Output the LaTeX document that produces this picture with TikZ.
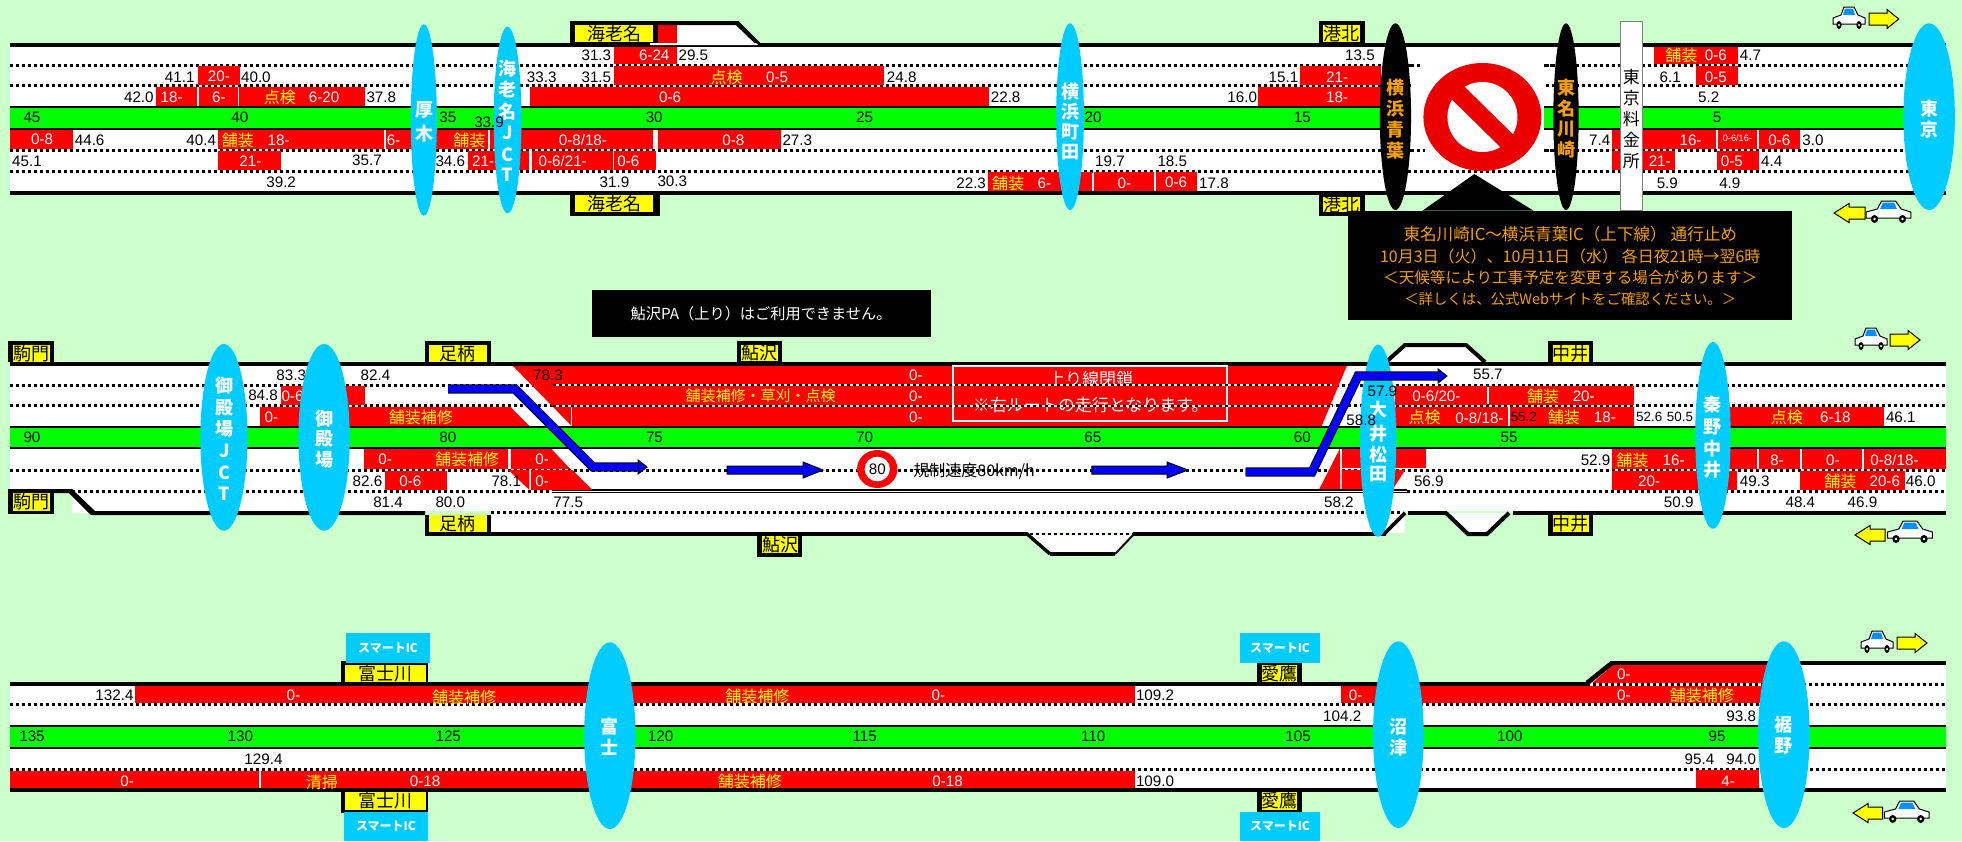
\documentclass[tikz,border=0pt]{standalone}
\usepackage{fontspec}
\setmainfont{Liberation Sans}
\newfontfamily\cjk{Noto Sans CJK JP}
\definecolor{bgc}{HTML}{CCFFCC}
\definecolor{grn}{HTML}{00FF00}
\definecolor{rd}{HTML}{FF0000}
\definecolor{yl}{HTML}{FFFF00}
\definecolor{cy}{HTML}{00CCFF}
\definecolor{org}{HTML}{F5A000}
\tikzset{
  txt/.style={inner sep=0pt,outer sep=0pt,anchor=center},
  cropA/.style 2 args={shift={(#1*0.5pt,-#2*0.5pt)},x=0.21044pt,y=-0.16667pt},
  cropB/.style 2 args={shift={(#1*0.5pt,-#2*0.5pt)},x=0.21110pt,y=-0.16667pt},
  dsh/.style={black,line width=1.5pt,dash pattern=on 1.7pt off 1.3pt},
}
\newcommand\rr[4]{\fill[rd] (#1,#2) rectangle (#3,#4);}
\newcommand\bk[4]{\fill[black] (#1,#2) rectangle (#3,#4);}
\newcommand\wh[4]{\fill[white] (#1,#2) rectangle (#3,#4);}
\newcommand\nb[3]{\node[txt,text=black] at (#1,#2) {\fontsize{7.6}{8}\selectfont #3};}
\newcommand\ns[3]{\node[txt,text=black] at (#1,#2) {\fontsize{6.7}{8}\selectfont #3};}
\newcommand\nw[3]{\node[txt,text=white] at (#1,#2) {\fontsize{7.6}{8}\selectfont #3};}
\newcommand\ky[3]{\node[txt,text=yl] at (#1,#2) {\cjk\fontsize{8}{9}\selectfont #3};}
\newcommand\kw[3]{\node[txt,text=white] at (#1,#2) {\cjk\bfseries\fontsize{9}{9}\selectfont #3};}
\newcommand\ko[3]{\node[txt,text=org] at (#1,#2) {\cjk\bfseries\fontsize{9}{9}\selectfont #3};}
\newcommand\kk[3]{\node[txt,text=black] at (#1,#2) {\cjk\fontsize{8.5}{9}\selectfont #3};}
\newcommand\hub[4]{\fill[cy] (#1,#2) ellipse [x radius=#3,y radius=#4];}
\newcommand\ybox[9]{\bk{#1}{#2}{#3}{#4}\fill[yl] (#5,#6) rectangle (#7,#8);
  \node[txt,text=black] at ({(#5+#7)/2},{(#6+#8)/2}) {\cjk\fontsize{9}{9}\selectfont #9};}
\newcommand\smic[5]{\fill[cy] (#1,#2) rectangle (#3,#4);
  \node[txt,text=white] at ({(#1+#3)/2},{(#2+#4)/2}) {\cjk\bfseries\fontsize{6}{7}\selectfont #5};}
% car: x, y, xscale
\newcommand\car[3]{\begin{scope}[shift={(#1,#2)},xscale=#3]
  \filldraw[fill=white,draw=black,line width=.5pt] (-16,6)--(-16,0)--(-8,-3)--(-5,-11)--(5,-11)--(9,-3)--(16,0)--(16,6)--cycle;
  \fill[cy!70!blue] (-4,-9.5)--(4,-9.5)--(6,-3)--(-6,-3)--cycle;
  \fill[black] (-10,7) ellipse [x radius=2.6,y radius=4];
  \fill[black] (10,7) ellipse [x radius=2.6,y radius=4];
  \fill[white] (-10,7) ellipse [x radius=1,y radius=1.4];
  \fill[white] (10,7) ellipse [x radius=1,y radius=1.4];
  \end{scope}}
% yellow arrow: tail, head base, tip, cy
\newcommand\yar[4]{\filldraw[fill=yl,draw=black,line width=.5pt,line join=miter]
  (#1,#4-6)--(#2,#4-6)--(#2,#4-9.5)--(#3,#4)--(#2,#4+9.5)--(#2,#4+6)--(#1,#4+6)--cycle;}
% blue arrow shaft + head
\newcommand\blu[5]{\filldraw[fill=blue,draw=black,line width=.5pt]
  (#1,#4-4)--(#2,#4-4)--(#2,#4-8)--(#3,#4)--(#2,#4+8)--(#2,#4+4)--(#1,#4+4)--cycle;}
\begin{document}
\begin{tikzpicture}[x=0.5pt,y=-0.5pt]
\useasboundingbox (0,0) rectangle (1962,841);
\fill[bgc] (0,0) rectangle (1962,841);

%% ================ ROW 1 ================
\wh{10}{45}{1946}{193}
\bk{10}{43}{1946}{47}
\bk{10}{191}{1946}{195}
\bk{10}{106}{1946}{129.7}
\fill[grn] (10,107.7) rectangle (1946,127.7);
\foreach \yy in {65,85.7,150,171.3} \draw[dsh] (10,\yy)--(1925,\yy);
% closure mask
\wh{1410.6}{47}{1544}{169.5}
\draw[dsh] (1410.6,65)--(1422,65);
\draw[dsh] (1410.6,150)--(1425,150);
\draw[dsh] (1544,65)--(1553,65);
\draw[dsh] (1544,150)--(1553,150);
% no-entry sign
\fill[rd!92!black] (1482.4,117) ellipse [x radius=59,y radius=54];
\fill[white] (1482.4,117) ellipse [x radius=35,y radius=35];
\draw[rd!92!black,line width=9pt] (1454,89)--(1511,145);
% branch over 海老名
\fill[white] (650,25)--(738,25)--(758,45)--(650,45)--cycle;
\begin{scope}[cropA={0}{0}]
 \rr{371}{261}{467}{318}\rr{472}{261}{566}{318}\rr{569}{261}{867}{318}
 \rr{470}{198}{570}{255}
 \rr{24}{389}{173}{447}\rr{518}{389}{912}{447}\rr{917}{389}{1160}{447}\rr{1164}{389}{1552}{447}
 \rr{518}{453}{667}{510}\rr{1112}{453}{1258}{510}\rr{1263}{453}{1456}{510}\rr{1460}{453}{1558}{510}
 \nb{1417}{167}{31.3}\nb{427}{231}{41.1}\nb{608}{231}{40.0}\nb{1287}{231}{33.3}\nb{1417}{231}{31.5}
 \nb{330}{293}{42.0}\nb{906}{293}{37.8}\nb{76}{352}{45}\nb{570}{352}{40}\nb{1064}{352}{35}
 \nb{213}{421}{44.6}\nb{478}{421}{40.4}\nb{64}{484}{45.1}\nb{872}{482}{35.7}\nb{1070}{484}{34.6}
 \nb{668}{547}{39.2}\nb{1460}{547}{31.9}
 \nw{520}{228}{20-}\nw{408}{293}{18-}\nw{520}{293}{6-}\ky{665}{293}{点検}\nw{770}{293}{6-20}
 \ky{1456}{293}{点検}
 \nw{100}{418}{0-8}\ky{565}{421}{舗装}\nw{662}{421}{18-}\nw{935}{422}{6-}\ky{1115}{421}{舗装}\nw{1385}{421}{0-8/18-}
 \nw{595}{484}{21-}\nw{1148}{484}{21-}\nw{1337}{484}{0-6/21-}\nw{1493}{484}{0-6}
 \hub{1007}{360}{31}{287}\kw{1008}{330}{厚}\kw{1008}{400}{木}
 \hub{1206}{360}{33}{280}\kw{1206}{205}{海}\kw{1206}{270}{老}\kw{1206}{335}{名}\kw{1206}{400}{J}\kw{1206}{463}{C}\kw{1206}{523}{T}
 \nb{1162}{368}{33.9}
 \ybox{1354}{63}{1568}{129}{1366}{75}{1552}{127}{海老名}
 \ybox{1354}{585}{1568}{647}{1366}{585}{1552}{635}{海老名}
\end{scope}
\begin{scope}[cropA={650}{0}]
 \bk{6}{63}{18}{129}\bk{6}{585}{18}{647}
 \fill[yl] (0,75) rectangle (6,127);
 \fill[yl] (0,585) rectangle (6,635);
 \rr{18}{75}{64}{129}
 \fill[black] (18,63)--(210,63)--(262,129)--(248,129)--(204,75)--(18,75)--cycle;
 \rr{-86}{141}{64}{192}\rr{-86}{198}{557}{255}\rr{-286}{261}{805}{318}
 \rr{18}{389}{311}{447}
 \rr{803}{517}{1050}{573}\rr{1055}{517}{1197}{573}\rr{1202}{517}{1300}{573}
 \nw{10}{167}{6-24}\nb{103}{167}{29.5}\ky{182}{231}{点検}\nw{302}{231}{0-5}\nb{598}{231}{24.8}\nb{1505}{231}{15.1}
 \nw{48}{293}{0-6}\nb{845}{293}{22.8}\nb{1407}{293}{16.0}
 \nb{10}{352}{30}\nb{510}{352}{25}\nb{1053}{352}{20}\nb{1550}{352}{15}
 \nw{198}{421}{0-8}\nb{350}{421}{27.3}\nb{1093}{484}{19.7}\nb{1241}{484}{18.5}
 \nb{53}{545}{30.3}\nb{763}{550}{22.3}\ky{851}{550}{舗装}\nw{937}{550}{6-}\nw{1127}{550}{0-}\nw{1250}{548}{0-6}\nb{1340}{550}{17.8}
 \hub{998}{350}{33}{280}\kw{998}{275}{横}\kw{998}{335}{浜}\kw{998}{395}{町}\kw{998}{455}{田}
\end{scope}
\begin{scope}[cropB={1300}{0}]
 \rr{0}{198}{192}{255}\rr{-99}{261}{192}{318}
 \rr{838}{141}{1037}{192}\rr{938}{198}{1037}{255}
 \rr{740}{389}{985}{447}\rr{990}{389}{1082}{447}\rr{1087}{389}{1183}{447}
 \rr{740}{453}{888}{510}\rr{988}{453}{1087}{510}
 \nb{142}{167}{13.5}\nw{88}{231}{21-}\nw{88}{293}{18-}
 \ky{903}{167}{舗装}\nw{985}{167}{0-6}\nb{1067}{167}{4.7}\nb{877}{231}{6.1}\nw{985}{231}{0-5}\nb{968}{293}{5.2}\nb{988}{352}{5}
 \nb{710}{421}{7.4}\nw{925}{421}{16-}
 \node[txt,text=white] at (1036,416) {\fontsize{4.6}{5}\selectfont 0-6/16-};
 \nw{1135}{421}{0-6}\nb{1215}{421}{3.0}
 \nw{852}{484}{21-}\nw{1023}{484}{0-5}\nb{1117}{484}{4.4}\nb{870}{550}{5.9}\nb{1018}{550}{4.9}
 \fill[black] (226,350) ellipse [x radius=37,y radius=280];
 \ko{226}{262}{横}\ko{226}{325}{浜}\ko{226}{390}{青}\ko{226}{452}{葉}
 \fill[black] (630,350) ellipse [x radius=30,y radius=280];
 \ko{630}{262}{東}\ko{630}{325}{名}\ko{630}{388}{川}\ko{630}{450}{崎}
 \filldraw[fill=white,draw=gray,line width=.5pt] (758,65) rectangle (810,632);
 \kk{785}{232}{東}\kk{785}{295}{京}\kk{785}{358}{料}\kk{785}{420}{金}\kk{785}{483}{所}
 \hub{1490}{350}{61}{280}\kw{1490}{325}{東}\kw{1490}{388}{京}
 \ybox{45}{63}{155}{129}{55}{75}{143}{127}{港北}
 \ybox{45}{585}{155}{647}{55}{590}{143}{635}{港北}
 \fill[black] (413,522)--(553,632)--(290,632)--cycle;
 \bk{114}{632}{1166}{960}
 \node[txt,text=org] at (640,703) {\cjk\fontsize{8.3}{9}\selectfont 東名川崎IC〜横浜青葉IC（上下線） 通行止め};
 \node[txt,text=org] at (640,770) {\cjk\fontsize{8}{9}\selectfont 10月3日（火）、10月11日（水） 各日夜21時→翌6時};
 \node[txt,text=org] at (640,833) {\cjk\fontsize{7.8}{9}\selectfont ＜天候等により工事予定を変更する場合があります＞};
 \node[txt,text=org] at (640,898) {\cjk\fontsize{7.2}{9}\selectfont ＜詳しくは、公式Webサイトをご確認ください。＞};
\end{scope}
\car{1849}{18}{1}\yar{1869}{1887}{1898.7}{19}
\yar{1865}{1849}{1834}{213}\car{1888.5}{212}{1.4}

%% ================ ROW 2 ================
\wh{10}{366}{1946}{491}
\wh{72}{491}{1946}{511}
\fill[bgc] (10,493) rectangle (72,515);
\fill[white] (72,491)--(93.4,513)--(72,513)--cycle;
\wh{491}{511}{1405}{533}
\fill[white] (1026,534)--(1050,555)--(1115,555)--(1135,534)--cycle;
\fill[white] (1384,534)--(1405,513)--(1384,513)--cycle;
\fill[white] (1446,513)--(1468,534)--(1487,534)--(1509,513)--cycle;
\fill[white] (1386,362)--(1405,345)--(1466,345)--(1485,362)--cycle;
\bk{10}{426}{1946}{449}
\fill[grn] (10,427.7) rectangle (1946,447);
\foreach \yy in {385,405.7,470} \draw[dsh] (10,\yy)--(1946,\yy);
\draw[dsh] (72,491.3)--(552,491.3);
\draw[dsh] (1407,491.3)--(1946,491.3);
\draw[dsh] (491,512)--(1403,512);
% red closure block
\fill[rd] (510,363)--(1348,363)--(1321.7,426)--(571.7,426)--cycle;
\draw[white,line width=.4pt] (571.7,405)--(571.7,426);
% outline pieces
\bk{10}{362}{1946}{366}
\fill[black] (54,489)--(72,489)--(95,511)--(425,511)--(425,515)--(91,515)--(69,493)--(54,493)--cycle;
\bk{552}{489.3}{1407}{491.3}
\bk{552}{492.3}{1407}{493.3}
\bk{491}{532}{1027}{536}
\bk{1133}{532}{1386}{536}
\draw[black,line width=1.7pt] (1026,533)--(1050,554);
\draw[black,line width=1pt] (1135,533)--(1115,554);
\draw[black,line width=2pt] (1050,554)--(1115,554);
\draw[dsh,line width=.8pt] (1030,534)--(1133,534);
\draw[black,line width=1.8pt] (1384,534)--(1405,513);
\bk{1408}{511}{1447}{515}
\draw[black,line width=2pt] (1446,513)--(1468,534)--(1487,534)--(1509,513);
\bk{1513}{511}{1946}{515}
\draw[black,line width=2pt] (1386,362)--(1405,345)--(1466,345)--(1485,362);
\begin{scope}[cropA={0}{320}]
 \rr{668}{198}{867}{255}
 \fill[rd] (618,261)--(1213,261)--(1258,318)--(618,318)--cycle;
 \rr{865}{387}{1208}{447}
 \fill[rd] (1214,387)--(1310,387)--(1355,447)--(1214,447)--cycle;
 \rr{915}{453}{1063}{510}
 \fill[rd] (1208,450)--(1258,450)--(1258,510)--cycle;
 \fill[rd] (1262,450)--(1360,450)--(1408,510)--(1262,510)--cycle;
 \nb{692}{165}{83.3}\nb{892}{165}{82.4}\nb{1302}{165}{78.3}\nb{625}{226}{84.8}\nw{695}{228}{0-6}
 \nw{645}{293}{0-}\ky{1000}{293}{舗装補修}
 \nb{76}{352}{90}\nb{1064}{352}{80}\nb{1555}{352}{75}
 \nw{915}{417}{0-}\ky{1110}{417}{舗装補修}\nw{1288}{417}{0-}
 \nb{873}{484}{82.6}\nw{975}{484}{0-6}\nb{1203}{484}{78.1}\nw{1288}{484}{0-}
 \nb{922}{547}{81.4}\nb{1070}{547}{80.0}\nb{1350}{547}{77.5}
 \hub{532}{352}{56}{280}\kw{533}{198}{御}\kw{533}{263}{殿}\kw{533}{325}{場}\kw{533}{392}{J}\kw{533}{457}{C}\kw{533}{520}{T}
 \hub{770}{352}{61}{280}\kw{770}{295}{御}\kw{770}{358}{殿}\kw{770}{420}{場}
 \ybox{20}{63}{128}{126}{30}{75}{118}{125}{駒門}
 \ybox{20}{508}{128}{583}{30}{520}{118}{573}{駒門}
 \ybox{1010}{63}{1166}{126}{1020}{75}{1156}{125}{足柄}
 \ybox{1010}{585}{1166}{647}{1020}{585}{1156}{635}{足柄}
\end{scope}
\begin{scope}[cropA={650}{280}]
 \bk{-138}{30}{668}{172}
 \node[txt,text=white] at (264,101) {\cjk\fontsize{7.6}{9}\selectfont 鮎沢PA（上り）はご利用できません。};
 \ybox{207}{183}{314}{246}{217}{195}{304}{244}{鮎沢}
 \ybox{255}{768}{362}{830}{266}{768}{352}{820}{鮎沢}
 \node[txt,text=yl] at (263,347) {\cjk\fontsize{7.5}{9}\selectfont 舗装補修・草刈・点検};
 \nw{632}{287}{0-}\nw{632}{349}{0-}\nw{632}{411}{0-}
 \draw[white,line width=1pt] (720,258) rectangle (1370,424);
 \nb{510}{473}{70}\nb{1052}{473}{65}\nb{1550}{473}{60}
 \node[txt,text=black] at (770,573) {\cjk\fontsize{8}{9}\selectfont 規制速度80km/h};
 \fill[rd] (540,567) ellipse [x radius=48,y radius=57];
 \fill[white] (540,567) ellipse [x radius=30,y radius=37];
 \nb{540}{569}{80}
\end{scope}
% lane dashes running across the closed block
\foreach \yy in {385,405.7} \draw[white,line width=1.1pt] (553,\yy)--(1332,\yy);
\begin{scope}[cropA={650}{280}]
 \node[txt,text=white] at (1047,298) {\cjk\fontsize{8.5}{9}\selectfont 上り線閉鎖};
 \node[txt,text=white] at (1047,375) {\cjk\fontsize{8.5}{9}\selectfont ※右ルートの走行となります。};
\end{scope}
\foreach \yy in {385,405.7} \draw[dsh,line width=1.1pt] (553,\yy)--(1332,\yy);
\blu{727}{803}{823}{470}{}
\blu{1091.9}{1167}{1188}{470}{}
\begin{scope}[cropB={1300}{320}]
 \rr{225}{198}{443}{255}\rr{447}{198}{790}{255}
 \rr{225}{261}{493}{318}\rr{497}{261}{790}{318}\rr{1000}{261}{1383}{318}
 \rr{739}{387}{1083}{447}\rr{1087}{387}{1183}{447}\rr{1188}{387}{1330}{447}\rr{1335}{387}{1530}{447}
 \rr{739}{453}{1035}{510}\rr{1184}{453}{1433}{510}
\end{scope}
\fill[rd] (1340,448.3)--(1340,489)--(1319.3,489)--cycle;
\rr{1341.7}{449}{1426}{468.3}
\fill[rd] (1341.7,470)--(1405,470)--(1393,489)--(1341.7,489)--cycle;
\begin{scope}[cropB={1300}{320}]
 \nb{445}{163}{55.7}\nw{323}{228}{0-6/20-}\ky{576}{228}{舗装}\nw{672}{228}{20-}
 \ky{295}{293}{点検}\nw{425}{293}{0-8/18-}\ns{530}{291}{55.2}\ky{625}{293}{舗装}\nw{722}{293}{18-}
 \ns{827}{291}{52.6}\ns{900}{291}{50.5}\ky{1153}{293}{点検}\nw{1268}{293}{6-18}\nb{1423}{291}{46.1}
 \nb{495}{353}{55}
 \nb{700}{420}{52.9}\ky{787}{420}{舗装}\nw{885}{420}{16-}\nw{1130}{420}{8-}\nw{1262}{420}{0-}\nw{1408}{420}{0-8/18-}
 \nb{305}{483}{56.9}\nw{827}{483}{20-}\nb{1077}{483}{49.3}\ky{1280}{483}{舗装}\nw{1385}{483}{20-6}\nb{1470}{483}{46.0}
 \nb{92}{547}{58.2}\nb{897}{547}{50.9}\nb{1185}{547}{48.4}\nb{1332}{547}{46.9}
 \hub{185}{362}{43}{288}\kw{185}{270}{大}\kw{185}{340}{井}\kw{185}{403}{松}\kw{185}{463}{田}
 \hub{978}{346}{42}{280}\kw{978}{255}{秦}\kw{978}{320}{野}\kw{978}{387}{中}\kw{978}{450}{井}
 \ybox{588}{63}{695}{126}{598}{75}{685}{125}{中井}
 \ybox{588}{585}{695}{647}{598}{585}{685}{635}{中井}
\end{scope}
% rerouted blue arrows
\draw[black,line width=4.6pt,line join=miter] (448,389)--(515,389)--(593,467)--(640,467);
\draw[blue,line width=3.6pt,line join=miter] (448,389)--(515,389)--(593,467)--(640,467);
\filldraw[fill=blue,draw=black,line width=.5pt] (638,460)--(647,467)--(638,474)--cycle;
\draw[black,line width=4.6pt,line join=miter] (1245.5,472)--(1312,472)--(1358,376)--(1440,376);
\draw[blue,line width=3.6pt,line join=miter] (1245.5,472)--(1312,472)--(1358,376)--(1440,376);
\filldraw[fill=blue,draw=black,line width=.5pt] (1438,369)--(1447,376)--(1438,383)--cycle;
\begin{scope}[cropB={1300}{320}]
 \nb{195}{213}{57.9}\nb{145}{300}{58.8}
\end{scope}
\car{1871}{339}{1}\yar{1890}{1908}{1920}{340}
\yar{1885}{1870}{1855}{535}\car{1910}{532}{1.4}

%% ================ ROW 3 ================
\wh{10}{686}{1946}{788}
\fill[white] (1587,686)--(1612,663)--(1946,663)--(1946,686)--cycle;
\bk{10}{725}{1946}{749}
\fill[grn] (10,726.7) rectangle (1946,747);
\foreach \yy in {704.3,769} \draw[dsh] (10,\yy)--(1946,\yy);
\fill[rd] (135.1,686) rectangle (1134.8,703);
\fill[rd] (10,770.5) rectangle (259,788);
\fill[rd] (261,770.5) rectangle (1134.8,788);
\begin{scope}[cropB={1300}{610}]
 \rr{98}{228}{1100}{279}
 \fill[rd] (692,219)--(742,165)--(1105,165)--(1105,219)--cycle;
 \rr{938}{480}{1087}{534}
\end{scope}
\draw[dsh] (1587,684)--(1946,684);
\bk{10}{682}{1588}{686}
\draw[black,line width=2.4pt] (1587,683)--(1612,663);
\bk{1610}{661}{1946}{665}
\bk{10}{788}{1946}{792}
\begin{scope}[cropA={0}{610}]
 \nb{272}{257}{132.4}\nw{697}{255}{0-}\ky{1103}{263}{舗装補修}
 \nb{76}{380}{135}\nb{571}{380}{130}\nb{1065}{380}{125}\nb{626}{447}{129.4}
 \nw{302}{513}{0-}\ky{765}{517}{清掃}\nw{1010}{513}{0-18}
 \hub{1449}{377}{61}{280}\kw{1449}{350}{富}\kw{1449}{412}{士}
 \ybox{810}{153}{1018}{216}{820}{165}{1012}{215}{富士川}
 \ybox{810}{546}{1018}{610}{820}{546}{1012}{600}{富士川}
 \smic{822}{69}{1022}{159}{スマートIC}
 \smic{817}{606}{1017}{693}{スマートIC}
\end{scope}
\begin{scope}[cropA={650}{610}]
 \ky{255}{260}{舗装補修}\nw{685}{255}{0-}\nb{1200}{257}{109.2}
 \nb{25}{380}{120}\nb{510}{380}{115}\nb{1053}{380}{110}\nb{1540}{380}{105}
 \ky{237}{513}{舗装補修}\nw{707}{513}{0-18}\nb{1200}{513}{109.0}
 \ybox{1442}{159}{1550}{216}{1454}{165}{1538}{215}{愛鷹}
 \ybox{1442}{546}{1550}{606}{1454}{546}{1538}{600}{愛鷹}
 \smic{1402}{69}{1592}{159}{スマートIC}
 \smic{1402}{606}{1592}{693}{スマートIC}
\end{scope}
\begin{scope}[cropB={1300}{610}]
 \nw{132}{257}{0-}\nw{767}{257}{0-}\ky{952}{255}{舗装補修}\nw{767}{193}{0-}
 \nb{100}{320}{104.2}\nb{1045}{320}{93.8}\nb{497}{380}{100}\nb{988}{380}{95}
 \nb{946}{449}{95.4}\nb{1045}{449}{94.0}\nw{1014}{513}{4-}
 \hub{233}{374}{60}{280}\kw{233}{350}{沼}\kw{233}{412}{津}
 \hub{1146}{374}{61}{280}\kw{1146}{345}{裾}\kw{1146}{408}{野}
\end{scope}
\car{1877}{642}{1}\yar{1897}{1915}{1927}{643}
\yar{1882.6}{1868}{1853}{813}\car{1906.7}{812}{1.4}
\end{tikzpicture}
\end{document}
